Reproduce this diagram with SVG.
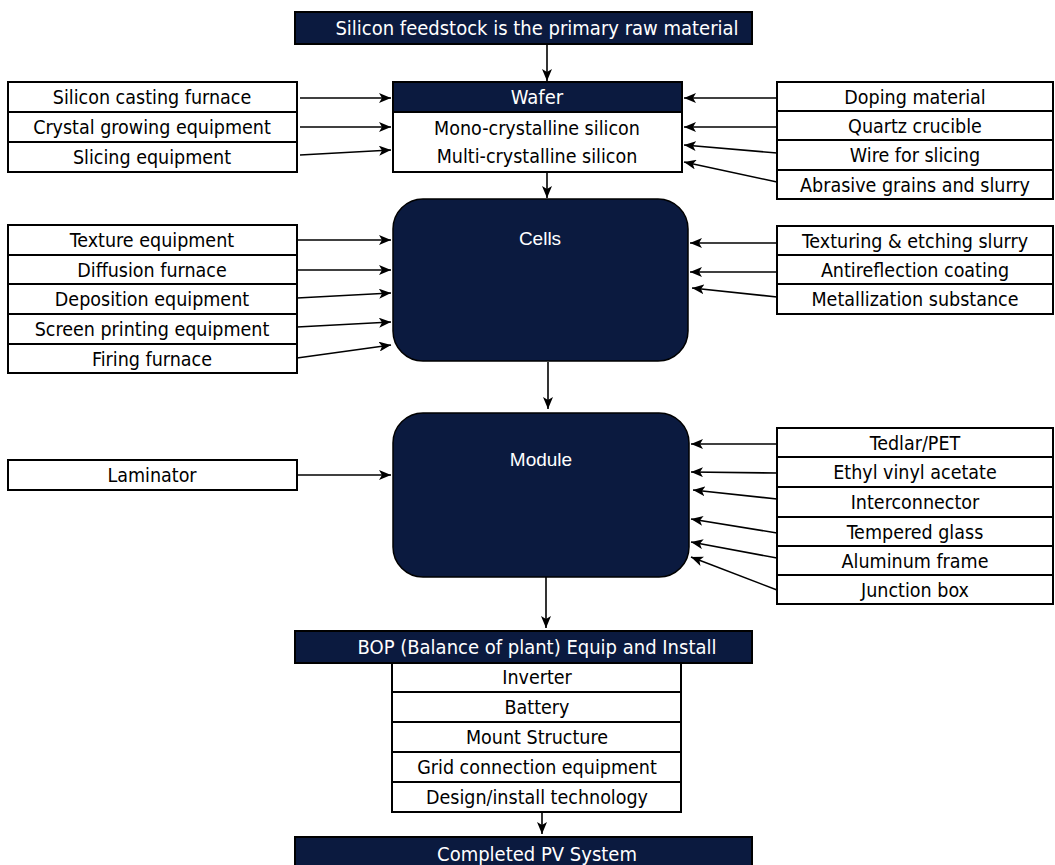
<svg xmlns="http://www.w3.org/2000/svg" width="1055" height="865" viewBox="0 0 1055 865">
  <style>
    .lbl { font-family: "DejaVu Sans Condensed", "DejaVu Sans", sans-serif; font-stretch: condensed; font-size: 19.5px; fill: #000; text-anchor: middle; dominant-baseline: central; }
    .hdr { font-family: "DejaVu Sans Condensed", "DejaVu Sans", sans-serif; font-stretch: condensed; font-size: 20px; fill: #fff; text-anchor: middle; dominant-baseline: central; }
    .big { font-family: "Liberation Sans", Arial, sans-serif; font-size: 19px; fill: #fff; text-anchor: middle; dominant-baseline: central; }
    .cell { fill: #fff; stroke: #000; stroke-width: 2; }
    .dark { fill: #0b1a3f; stroke: #000; stroke-width: 2; }
    .round { fill: #0b1a3f; stroke: #000; stroke-width: 1.5; }
    .conn line { stroke: #000; stroke-width: 1.6; marker-end: url(#arrow); }
  </style>
  <defs>
    <marker id="arrow" viewBox="0 0 12 10" refX="12" refY="5" markerWidth="12" markerHeight="10" markerUnits="userSpaceOnUse" orient="auto">
      <path d="M0,0 L12,5 L0,10 L3,5 z" fill="#000"/>
    </marker>
  </defs>
  <rect width="1055" height="865" fill="#fff"/>

  <!-- raw material -->
  <g id="feedstock">
    <rect class="dark" x="295" y="12" width="457" height="32"/>
    <text class="hdr" x="537" y="28">Silicon feedstock is the primary raw material</text>
  </g>

  <!-- wafer stage -->
  <g id="wafer">
    <rect class="cell" x="393" y="82" width="289" height="90"/>
    <rect class="dark" x="393" y="82" width="289" height="30"/>
    <text class="hdr" x="537" y="97">Wafer</text>
    <text class="lbl" x="537" y="128">Mono-crystalline silicon</text>
    <text class="lbl" x="537" y="156">Multi-crystalline silicon</text>
  </g>
  <g id="wafer-equipment">
    <rect class="cell" x="8" y="82" width="289" height="30"/>
    <rect class="cell" x="8" y="112" width="289" height="30"/>
    <rect class="cell" x="8" y="142" width="289" height="30"/>
    <text class="lbl" x="152" y="97">Silicon casting furnace</text>
    <text class="lbl" x="152" y="127">Crystal growing equipment</text>
    <text class="lbl" x="152" y="157">Slicing equipment</text>
  </g>
  <g id="wafer-materials">
    <rect class="cell" x="777" y="82" width="276" height="29"/>
    <rect class="cell" x="777" y="111" width="276" height="29"/>
    <rect class="cell" x="777" y="140" width="276" height="30"/>
    <rect class="cell" x="777" y="170" width="276" height="29"/>
    <text class="lbl" x="915" y="97">Doping material</text>
    <text class="lbl" x="915" y="126">Quartz crucible</text>
    <text class="lbl" x="915" y="155">Wire for slicing</text>
    <text class="lbl" x="915" y="185">Abrasive grains and slurry</text>
  </g>

  <!-- cell stage -->
  <g id="cells">
    <rect class="round" x="393" y="199" width="295" height="162" rx="30" ry="30"/>
    <text class="big" x="540" y="238">Cells</text>
  </g>
  <g id="cell-equipment">
    <rect class="cell" x="8" y="225" width="289" height="30"/>
    <rect class="cell" x="8" y="255" width="289" height="29"/>
    <rect class="cell" x="8" y="284" width="289" height="30"/>
    <rect class="cell" x="8" y="314" width="289" height="30"/>
    <rect class="cell" x="8" y="344" width="289" height="29"/>
    <text class="lbl" x="152" y="240">Texture equipment</text>
    <text class="lbl" x="152" y="270">Diffusion furnace</text>
    <text class="lbl" x="152" y="299">Deposition equipment</text>
    <text class="lbl" x="152" y="329">Screen printing equipment</text>
    <text class="lbl" x="152" y="359">Firing furnace</text>
  </g>
  <g id="cell-materials">
    <rect class="cell" x="777" y="226" width="276" height="29"/>
    <rect class="cell" x="777" y="255" width="276" height="29"/>
    <rect class="cell" x="777" y="284" width="276" height="30"/>
    <text class="lbl" x="915" y="241">Texturing &amp; etching slurry</text>
    <text class="lbl" x="915" y="270">Antireflection coating</text>
    <text class="lbl" x="915" y="299">Metallization substance</text>
  </g>

  <!-- module stage -->
  <g id="module">
    <rect class="round" x="393" y="413" width="296" height="164" rx="30" ry="30"/>
    <text class="big" x="541" y="459">Module</text>
  </g>
  <g id="module-equipment">
    <rect class="cell" x="8" y="460" width="289" height="30"/>
    <text class="lbl" x="152" y="475">Laminator</text>
  </g>
  <g id="module-materials">
    <rect class="cell" x="777" y="428" width="276" height="29"/>
    <rect class="cell" x="777" y="457" width="276" height="30"/>
    <rect class="cell" x="777" y="487" width="276" height="30"/>
    <rect class="cell" x="777" y="517" width="276" height="29"/>
    <rect class="cell" x="777" y="546" width="276" height="29"/>
    <rect class="cell" x="777" y="575" width="276" height="29"/>
    <text class="lbl" x="915" y="443">Tedlar/PET</text>
    <text class="lbl" x="915" y="472">Ethyl vinyl acetate</text>
    <text class="lbl" x="915" y="502">Interconnector</text>
    <text class="lbl" x="915" y="532">Tempered glass</text>
    <text class="lbl" x="915" y="561">Aluminum frame</text>
    <text class="lbl" x="915" y="590">Junction box</text>
  </g>

  <!-- balance of plant -->
  <g id="bop">
    <rect class="dark" x="295" y="631" width="457" height="32"/>
    <text class="hdr" x="537" y="647">BOP (Balance of plant) Equip and Install</text>
    <rect class="cell" x="392" y="663" width="289" height="29"/>
    <rect class="cell" x="392" y="692" width="289" height="30"/>
    <rect class="cell" x="392" y="722" width="289" height="30"/>
    <rect class="cell" x="392" y="752" width="289" height="30"/>
    <rect class="cell" x="392" y="782" width="289" height="30"/>
    <text class="lbl" x="537" y="677">Inverter</text>
    <text class="lbl" x="537" y="707">Battery</text>
    <text class="lbl" x="537" y="737">Mount Structure</text>
    <text class="lbl" x="537" y="767">Grid connection equipment</text>
    <text class="lbl" x="537" y="797">Design/install technology</text>
  </g>

  <g id="completed">
    <rect class="dark" x="295" y="837" width="457" height="34"/>
    <text class="hdr" x="537" y="854">Completed PV System</text>
  </g>

  <!-- connectors -->
  <g id="connectors" class="conn">
    <line x1="547" y1="44" x2="547" y2="81"/>
    <line x1="300" y1="98" x2="391" y2="98"/>
    <line x1="300" y1="127" x2="391" y2="127"/>
    <line x1="300" y1="155" x2="391" y2="150"/>
    <line x1="777" y1="98" x2="684" y2="98"/>
    <line x1="777" y1="127" x2="684" y2="127"/>
    <line x1="777" y1="153" x2="684" y2="145"/>
    <line x1="777" y1="182" x2="684" y2="162"/>
    <line x1="547" y1="172" x2="547" y2="198"/>
    <line x1="297" y1="240" x2="391" y2="240"/>
    <line x1="297" y1="270" x2="391" y2="270"/>
    <line x1="297" y1="298" x2="391" y2="293"/>
    <line x1="297" y1="327" x2="391" y2="322"/>
    <line x1="297" y1="358" x2="391" y2="345"/>
    <line x1="777" y1="243" x2="690" y2="243"/>
    <line x1="777" y1="272" x2="690" y2="272"/>
    <line x1="777" y1="297" x2="692" y2="288"/>
    <line x1="548" y1="362" x2="548" y2="409"/>
    <line x1="297" y1="475" x2="391" y2="475"/>
    <line x1="777" y1="444" x2="691" y2="444"/>
    <line x1="777" y1="473" x2="691" y2="472"/>
    <line x1="777" y1="499" x2="693" y2="490"/>
    <line x1="777" y1="533" x2="691" y2="519"/>
    <line x1="777" y1="558" x2="691" y2="542"/>
    <line x1="777" y1="590" x2="691" y2="557"/>
    <line x1="546" y1="577" x2="546" y2="628"/>
    <line x1="542" y1="812" x2="542" y2="834"/>
  </g>
</svg>
